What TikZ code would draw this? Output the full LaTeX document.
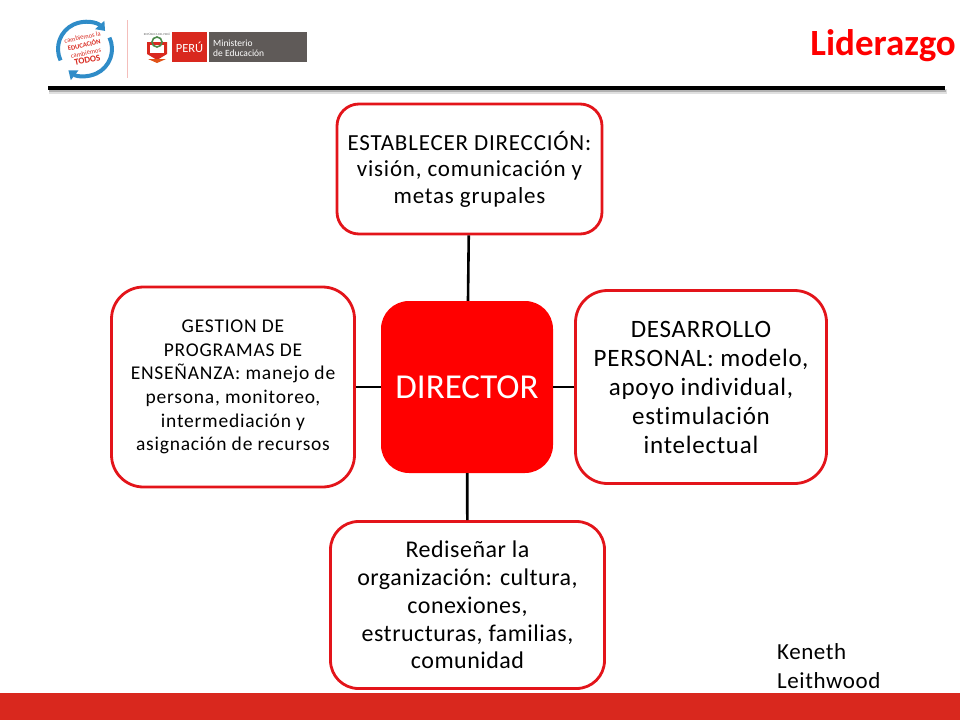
\documentclass[tikz,border=0pt]{standalone}
\usepackage{fontspec}
\setmainfont{Carlito}[Ligatures=NoCommon]
\usetikzlibrary{arrows.meta}
\definecolor{redbox}{HTML}{FF0000}
\definecolor{redline}{HTML}{E3141A}
\definecolor{redbar}{HTML}{D9281E}
\definecolor{bluelogo}{HTML}{2F8CC8}
\definecolor{greylogo}{HTML}{5F5A58}
\definecolor{greencrest}{HTML}{4C8A4A}
\newcommand{\boxfont}[3]{\fontsize{#1}{#2}\selectfont\addfontfeatures{LetterSpace=#3}}
\tikzset{
  petal/.style={draw=redline, line width=2.8pt, fill=white, align=center, inner sep=0pt, minimum width=#1},
  link/.style={draw=black, line width=2.6pt},
  ringarc/.style={draw=bluelogo, line width=4pt, -{Triangle[length=8pt, width=12pt]}},
}
\begin{document}
\begin{tikzpicture}
  [x=1pt, y=-1pt]
  \useasboundingbox (0, 0) rectangle (960, 720);
  \fill[white] (0, 0) rectangle (960, 720);
  \fill[redbar] (0, 693) rectangle (960, 720);

  % header
  \fill[black!12] (49, 89) rectangle (947, 94);
  \fill[black!30] (49, 90) rectangle (946, 92);
  \fill[black] (48, 86) rectangle (945, 90);
  \node[text=redbox, font=\bfseries\fontsize{37}{37}\selectfont, anchor=east, inner sep=0pt] (title) at (956, 46) {Liderazgo};

  % logos
  \draw[ringarc] ([shift={(85, 49)}] 155:27) arc[start angle=155, end angle=318, radius=27];
  \draw[ringarc] ([shift={(85, 49)}] -25:27) arc[start angle=-25, end angle=128, radius=27];
  \node[text=redbar, font=\fontsize{6.6}{8}\selectfont, align=center, rotate=12, inner sep=0pt] (lema) at (85, 49) {cambiemos la\\\textbf{EDUCACIÓN}\\cambiemos\\\textbf{\fontsize{9}{8}\selectfont TODOS}};
  \draw[redbar!30, line width=1pt] (127, 20) -- (127, 78);
  \node[text=black!60, font=\fontsize{3}{3}\selectfont, inner sep=0pt] (escudo) at (157, 34.5) {REPÚBLICA DEL PERÚ};
  \fill[redbar] (147, 42) -- (167, 42) -- (167, 54) -- (157, 60) -- (147, 54) -- cycle;
  \fill[white] (150, 45) rectangle (164, 53);
  \draw[greencrest, line width=1.6pt] (157, 42) circle (5);
  \fill[redbar!80!yellow] (148, 59) -- (166, 59) -- (157, 63) -- cycle;
  \fill[redbar] (172, 32) rectangle (207, 62);
  \fill[greylogo] (209, 32) rectangle (307, 62);
  \node[text=white, font=\fontsize{12.5}{12.5}\selectfont, inner sep=0pt] (peru) at (189.5, 47.5) {PERÚ};
  \node[text=white, font=\fontsize{9.5}{10}\selectfont, align=left, anchor=west, inner sep=0pt] (minedu) at (213, 48) {Ministerio\\de Educación};

  % diagrama
  \node[fill=redbox, rounded corners=28pt, minimum width=172pt, minimum height=172pt, text=white, font=\fontsize{35}{35}\selectfont, inner sep=0pt] (director) at (467, 387) {DIRECTOR};
  \node[petal=265pt, minimum height=130pt, rounded corners=22pt, font=\boxfont{23}{26.5}{3.5}] (dir) at (469.5, 169) {ESTABLECER DIRECCIÓN:\\visión, comunicación y\\metas grupales};
  \node[petal=251pt, minimum height=193pt, rounded corners=32pt, font=\boxfont{25}{29}{3}] (per) at (701, 387) {DESARROLLO\\PERSONAL: modelo,\\apoyo individual,\\estimulación\\intelectual};
  \node[petal=274pt, minimum height=167pt, rounded corners=28pt, font=\boxfont{24}{27.8}{2}] (org) at (467.5, 605) {Rediseñar la\\organización: cultura,\\conexiones,\\estructuras, familias,\\comunidad};
  \node[petal=243pt, minimum height=200pt, rounded corners=32pt, font=\boxfont{19.5}{23.6}{4}] (ges) at (233, 387) {GESTION DE\\PROGRAMAS DE\\ENSEÑANZA: manejo de\\persona, monitoreo,\\intermediación y\\asignación de recursos};

  \foreach \from/\to in {director/dir,director/per,director/org,director/ges}
  \draw[link] (\from) -- (\to);

  \node[anchor=north west, align=left, font=\boxfont{23}{29}{2.5}, inner sep=0pt] (autor) at (777, 643) {Keneth\\Leithwood};
\end{tikzpicture}
\end{document}
